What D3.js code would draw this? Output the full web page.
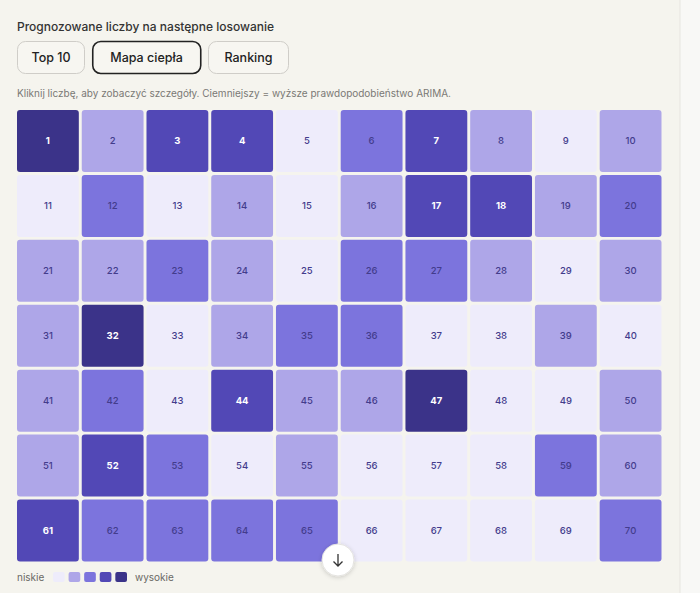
<!DOCTYPE html>
<html><head><meta charset="utf-8">
<script src="https://cdn.jsdelivr.net/npm/d3@7"></script>
<style>
html,body{margin:0;padding:0;background:#f8f8f6;}
svg{display:block;font-family:Inter,"Noto Sans",sans-serif;}
</style></head>
<body>
<svg id="chart" width="700" height="593"></svg>
<script>
// Numbers 1..70 and their heat level (1 = niskie ... 5 = wysokie)
const numbers = d3.range(1, 71);
const levels = [
  5,2,4,4,1,3,4,2,1,2,
  1,3,1,2,1,2,4,4,2,3,
  2,2,3,2,1,3,3,2,1,2,
  2,5,1,2,3,3,1,1,2,1,
  2,3,1,4,2,2,5,1,1,2,
  2,4,3,1,2,1,1,1,3,2,
  4,3,3,3,3,1,1,1,1,3
];
const colsIdx = d3.range(10);
const rowsIdx = d3.range(7);
const palette = ["#eeecfb","#aea6e8","#7c74dd","#5248b6","#3b3389"];
const buttons = ["Top 10","Mapa ciepła","Ranking"];
const activeButton = "Mapa ciepła";
const title = "Prognozowane liczby na następne losowanie";
const hint = "Kliknij liczbę, aby zobaczyć szczegóły. Ciemniejszy = wyższe prawdopodobieństwo ARIMA.";

const svg = d3.select("#chart");
const defs = svg.append("defs");
const f = defs.append("filter").attr("id","sh").attr("x","-50%").attr("y","-50%").attr("width","200%").attr("height","200%");
f.append("feDropShadow").attr("dx",0).attr("dy",1).attr("stdDeviation",2).attr("flood-color","#000").attr("flood-opacity",0.18);

// card
svg.append("rect").attr("x",-10).attr("y",-10).attr("width",690).attr("height",620)
  .attr("rx",10).attr("fill","#f5f4ee").attr("stroke","#e6e5e0");

svg.append("text").attr("x",17).attr("y",31).attr("font-size",12).attr("fill","#333")
  .attr("font-weight",500).text(title);

// buttons
const btnX = [17,92,208], btnW = [68,109,81];
buttons.forEach((b,i)=>{
  const active = b===activeButton;
  svg.append("rect").attr("x",btnX[i]+ (active?0.75:0.5)).attr("y",41.5).attr("width",btnW[i]-1).attr("height",32)
    .attr("rx",8).attr("fill","#f7f6f1").attr("stroke",active?"#222":"#cfcdc8").attr("stroke-width",active?1.6:1);
  svg.append("text").attr("x",btnX[i]+btnW[i]/2).attr("y",62).attr("text-anchor","middle")
    .attr("font-size",12.5).attr("font-weight",500).attr("fill","#222").text(b);
});

svg.append("text").attr("x",17).attr("y",97).attr("font-size",10).attr("fill","#7a7975").text(hint);

const x = d3.scaleBand().domain(colsIdx).range([17,661.5]).paddingInner(0.045);
const y = d3.scaleBand().domain(rowsIdx).range([110,561.5]).paddingInner(0.045);
const color = d3.scaleOrdinal().domain([1,2,3,4,5]).range(palette);

const cells = svg.append("g").selectAll("g").data(numbers).join("g")
  .attr("transform",(d,i)=>`translate(${x(i%10)},${y(Math.floor(i/10))})`);
cells.append("rect").attr("width",x.bandwidth()).attr("height",y.bandwidth()).attr("rx",3)
  .attr("fill",(d,i)=>color(levels[i]));
cells.append("text").attr("x",x.bandwidth()/2).attr("y",y.bandwidth()/2+3.5)
  .attr("text-anchor","middle").attr("font-size",9.5)
  .attr("font-weight",(d,i)=>levels[i]>=4?700:500)
  .attr("fill",(d,i)=>levels[i]>=4?"#ffffff":"#433c8c").text(d=>d);

// scroll button
const sb = svg.append("g").attr("transform","translate(338,560)");
sb.append("circle").attr("r",16).attr("fill","#ffffff").attr("stroke","#e4e3e0").attr("filter","url(#sh)");
sb.append("path").attr("d","M0,-6 L0,6 M-4.5,1.5 L0,6 L4.5,1.5").attr("fill","none").attr("stroke","#333").attr("stroke-width",1.3);

// legend
svg.append("text").attr("x",17).attr("y",581).attr("font-size",10).attr("fill","#6a6965").text("niskie");
const lx = d3.scaleBand().domain([1,2,3,4,5]).range([53,127]).paddingInner(0.25);
svg.append("g").selectAll("rect").data([1,2,3,4,5]).join("rect")
  .attr("x",d=>lx(d)).attr("y",572).attr("width",lx.bandwidth()).attr("height",10).attr("rx",2)
  .attr("fill",d=>color(d));
svg.append("text").attr("x",135).attr("y",581).attr("font-size",10).attr("fill","#6a6965").text("wysokie");
</script>
</body></html>
